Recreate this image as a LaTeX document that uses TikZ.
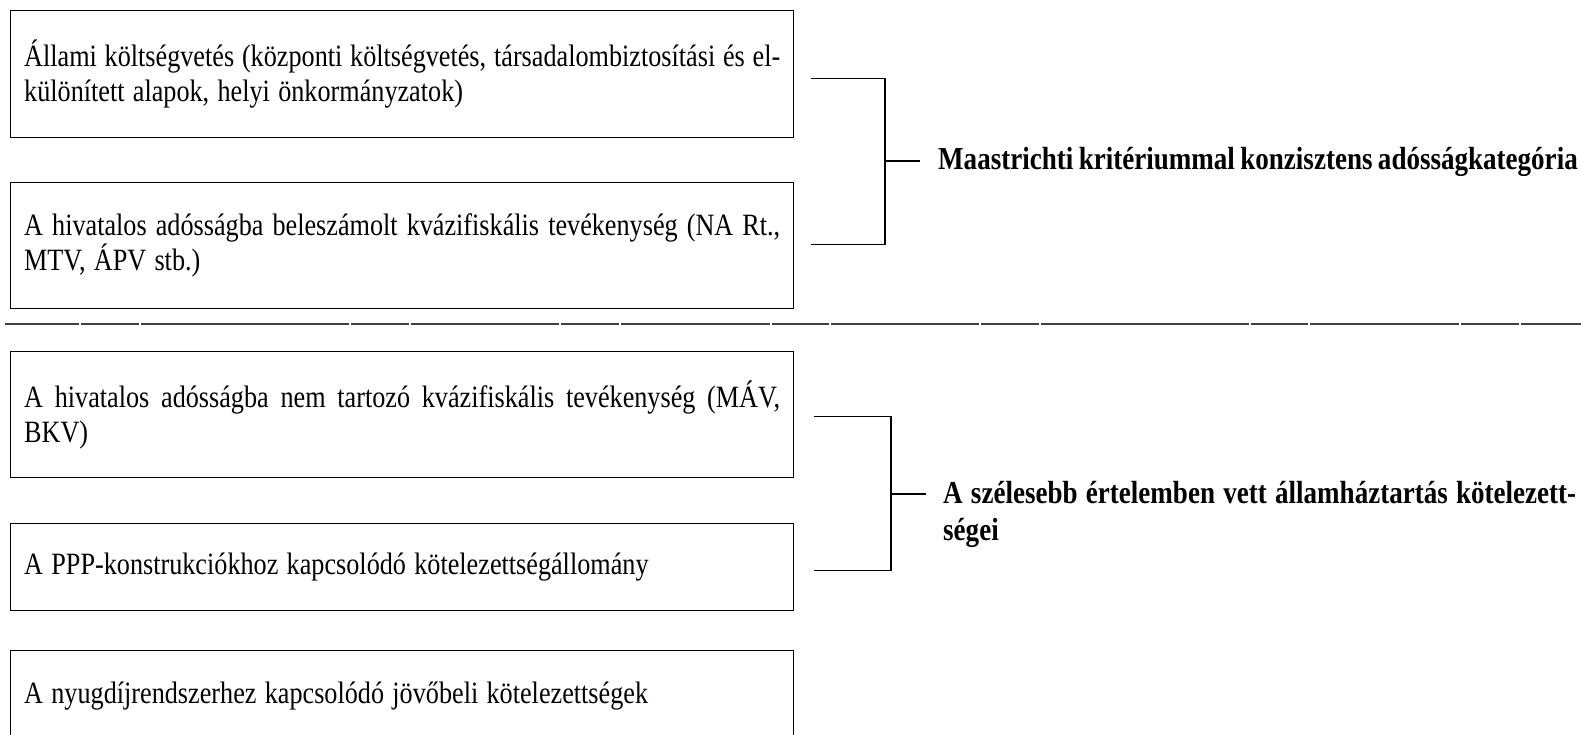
\documentclass[tikz,border=0pt]{standalone}
\usepackage{fontspec}
\setmainfont[FakeStretch=0.845, WordSpace=0.8]{Liberation Serif}
\newcommand\myboxfont{\fontsize{31}{35}\selectfont}
\newcommand\mylabfont{\bfseries\fontsize{32}{37}\selectfont}
\newcommand\myspacing{\spaceskip=8.3pt plus 3pt minus 1.5pt\relax}
\begin{document}
\begin{tikzpicture}[x=1pt,y=-1pt,
  box/.style={draw, line width=1.4pt, minimum width=783pt, text width=756pt, align=flush left,
    inner xsep=0pt, inner ysep=0pt, anchor=north west, font=\myboxfont,
    execute at begin node=\myspacing},
  lab/.style={inner ysep=0pt, font=\mylabfont},
  brk/.style={line width=1.4pt},
  sepline/.style={line width=1.6pt, color=black!75,
    dash pattern=on 74pt off 2pt on 58pt off 2pt on 208pt off 2pt on 58pt off 2pt on 148pt off 2pt on 58pt off 2pt on 149pt off 2pt on 57pt off 2pt on 148pt off 2pt on 58pt off 2pt on 208pt off 2pt on 57pt off 2pt on 149pt off 2pt on 58pt off 2pt on 80pt off 2pt}
]
\useasboundingbox (0,0) rectangle (1581,734);

\node[box, minimum height=127pt] (b1) at (10,10) {\makebox[756pt][s]{Állami költségvetés (központi költségvetés, társadalombiztosítási és el-}\\különített alapok, helyi önkormányzatok)};
\node[box, minimum height=126pt] (b2) at (10,182) {\makebox[756pt][s]{A hivatalos adósságba beleszámolt kvázifiskális tevékenység (NA Rt.,}\\MTV, ÁPV stb.)};
\node[box, minimum height=126pt] (b3) at (10,351) {\makebox[756pt][s]{A hivatalos adósságba nem tartozó kvázifiskális tevékenység (MÁV,}\\BKV)};
\node[box, minimum height=87pt] (b4) at (10,523) {A PPP-konstrukciókhoz kapcsolódó kötelezettségállomány};
\node[box, minimum height=90pt] (b5) at (10,650) {A nyugdíjrendszerhez kapcsolódó jövőbeli kötelezettségek};

\coordinate (dl) at (5,324);
\coordinate (dr) at (1581,324);
\draw[sepline] (dl) -- (dr);

\node[lab, anchor=west, inner xsep=18pt] (l1) at (920,162) {Maastrichti kritériummal konzisztens adósságkategória};
\node[lab, anchor=base west, inner xsep=17pt] (l2) at (926,503) {\parbox[t]{633pt}{\makebox[633pt][s]{A szélesebb értelemben vett államháztartás kötelezett-}\\ségei}};

\coordinate (j1) at (885,161);
\coordinate (j2) at (891,494);
\draw[brk] ([xshift=17pt,yshift=-4pt]b1.east) -| (j1) |- ([xshift=17pt,yshift=1pt]b2.east);
\draw[brk] (j1) -- (j1 -| l1.west);
\draw[brk] ([xshift=20pt,yshift=-2pt]b3.east) -| (j2) |- ([xshift=20pt,yshift=-3.5pt]b4.east);
\draw[brk] (j2) -- (j2 -| l2.west);
\end{tikzpicture}
\end{document}
